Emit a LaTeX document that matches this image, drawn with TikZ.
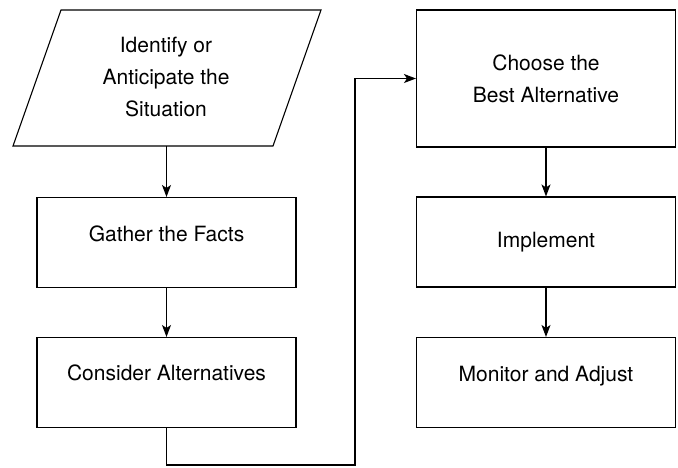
\documentclass[tikz,border=0pt]{standalone}
\usepackage{fontspec}
\setmainfont{TeX Gyre Heros}
\usetikzlibrary{arrows.meta, positioning}

\begin{document}
\begin{tikzpicture}[x=1pt, y=-1pt, line width=1.1pt,
    stepbox/.style={draw, minimum width=259pt, minimum height=90pt, align=center,
        inner sep=0pt, font=\fontsize{21}{32}\selectfont},
    flow/.style={-{Stealth[length=12pt, width=9pt, inset=3pt]}}]
    \useasboundingbox (0,0) rectangle (678,467);

    % Left column
    \coordinate (sit-tl) at (61,10);
    \coordinate (sit-tr) at (321,10);
    \coordinate (sit-br) at (273,146);
    \coordinate (sit-bl) at (13,146);
    \coordinate (sit-bottom) at (166.5,146);
    \draw (sit-tl) -- (sit-tr) -- (sit-br) -- (sit-bl) -- cycle;
    \node[align=center, font=\fontsize{21}{32}\selectfont] (situation) at (166,77)
        {Identify or\\Anticipate the\\Situation};

    \node[stepbox, text height=15pt, text depth=18pt] (facts) at (166.5,242.5) {Gather the Facts};
    \node[stepbox, text height=15pt, text depth=20pt] (consider) at (166.5,382.5) {Consider Alternatives};

    % Right column
    \node[stepbox, minimum height=137pt] (choose) at (546,78.5) {Choose the\\Best Alternative};
    \node[stepbox, text height=15pt] (implement) at (546,242) {Implement};
    \node[stepbox, text height=15pt, text depth=17pt] (monitor) at (546,382.5) {Monitor and Adjust};

    % Arrows
    \draw[flow] (sit-bottom) -- (facts.north);
    \draw[flow] (facts) -- (consider);
    \draw[flow] (choose) -- (implement);
    \draw[flow] (implement) -- (monitor);

    % Loop to the right column
    \coordinate (loop) at (355,465);
    \draw[flow] (consider.south) |- (loop) |- (choose.west);
\end{tikzpicture}
\end{document}
